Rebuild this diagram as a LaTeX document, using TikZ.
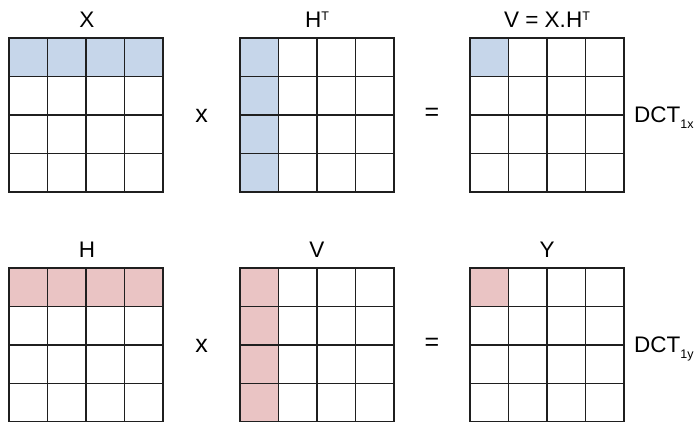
\documentclass[tikz,border=0pt]{standalone}
\usepackage{fontspec}
\setmainfont{Liberation Sans}
\usetikzlibrary{positioning}
\definecolor{rowblue}{RGB}{198,214,234}
\definecolor{rowpink}{RGB}{234,196,196}
\tikzset{
    cell/.style={draw=black!88, line width=1.5pt},
    matlabel/.style={font=\fontsize{22.5}{26}\selectfont, inner sep=0pt, anchor=base},
    opsign/.style={font=\fontsize{25}{28}\selectfont, inner sep=0pt},
    dctlabel/.style={font=\fontsize{22.5}{26}\selectfont, inner sep=0pt, anchor=base west},
}
\newcommand{\supT}{\raisebox{7pt}{\fontsize{12.5}{12.5}\selectfont T}}
\newcommand{\subdct}[1]{\raisebox{-6pt}{\fontsize{12.5}{12.5}\selectfont #1}}

\begin{document}
\begin{tikzpicture}[x=1pt, y=-1pt]
\useasboundingbox (0,0) rectangle (697,421);
\clip (0,0) rectangle (697,421);

% highlighted entries
\fill[rowblue] (9,38) rectangle (163,76.5);
\fill[rowblue] (240,38) rectangle (278.5,192);
\fill[rowblue] (470,38) rectangle (508.5,76.5);
\fill[rowpink] (9,268) rectangle (163,306.5);
\fill[rowpink] (240,268) rectangle (278.5,422);
\fill[rowpink] (470,268) rectangle (508.5,306.5);

% 4x4 grids
\foreach \gx in {9,240,470}
  \foreach \gy in {38,268}
    \foreach \i in {0,...,3}
      \foreach \j in {0,...,3}
        \draw[cell] ({\gx+38.5*\i},{\gy+38.5*\j}) rectangle ++(38.5,38.5);

% first pass (rows)
\node[matlabel] (labX) at (87,27.3) {X};
\node[matlabel] (labHT) at (317,27.3) {H\supT};
\node[matlabel] (labV) at (547,27.3) {V = X.H\supT};
\node[opsign] (mulA) at (201.5,116) {x};
\node[opsign] (eqA) at (432,114.5) {=};
\node[dctlabel] (dctA) at (634,122.5) {DCT\subdct{1x}};

% second pass (columns)
\node[matlabel] (labH) at (87,257.3) {H};
\node[matlabel] (labVb) at (317,257.3) {V};
\node[matlabel] (labY) at (547,257.3) {Y};
\node[opsign] (mulB) at (201.5,346) {x};
\node[opsign] (eqB) at (432,344.5) {=};
\node[dctlabel] (dctB) at (634,352.5) {DCT\subdct{1y}};
\end{tikzpicture}
\end{document}
